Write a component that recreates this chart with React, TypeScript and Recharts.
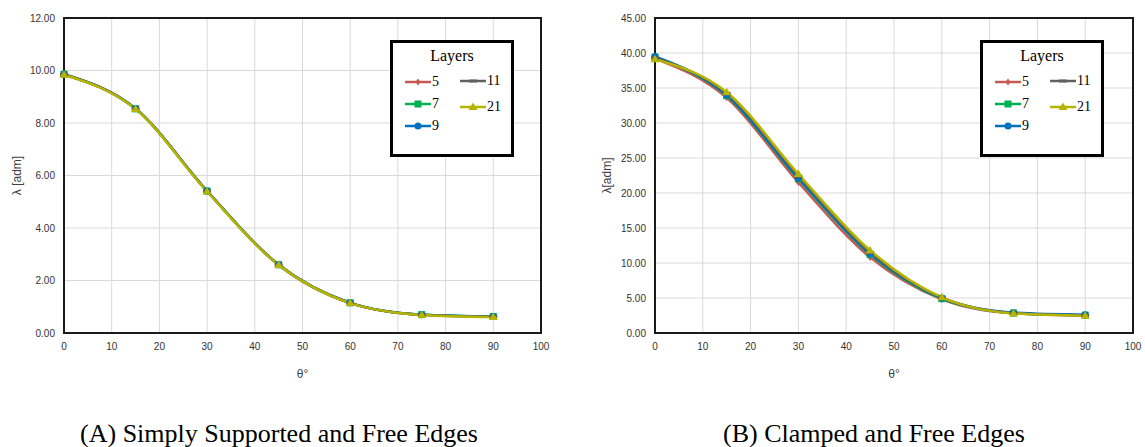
import React from "react";
import { LineChart, Line, XAxis, YAxis, CartesianGrid, Legend, ReferenceArea } from "recharts";

// theta in degrees
const thetas = [0, 15, 30, 45, 60, 75, 90];
const layers = ["5", "7", "9", "11", "21"];

// (A) simply supported and free edges
const ssL5 = [9.85, 8.54, 5.4, 2.6, 1.15, 0.7, 0.62];
const ssL7 = [9.86, 8.54, 5.41, 2.6, 1.15, 0.7, 0.63];
const ssL9 = [9.86, 8.55, 5.41, 2.6, 1.15, 0.7, 0.63];
const ssL11 = [9.85, 8.54, 5.4, 2.59, 1.14, 0.69, 0.62];
const ssL21 = [9.84, 8.53, 5.39, 2.59, 1.14, 0.69, 0.61];

// (B) clamped and free edges
const clL5 = [39.2, 33.6, 21.5, 10.8, 4.8, 2.8, 2.5];
const clL7 = [39.4, 33.9, 22.0, 11.2, 4.9, 2.85, 2.55];
const clL9 = [39.5, 34.0, 22.1, 11.3, 5.0, 2.9, 2.6];
const clL11 = [39.3, 34.2, 22.4, 11.5, 5.05, 2.85, 2.5];
const clL21 = [39.1, 34.4, 22.7, 11.8, 5.1, 2.8, 2.45];

const xTicks = [0, 10, 20, 30, 40, 50, 60, 70, 80, 90, 100];
const ssTicks = [0, 2, 4, 6, 8, 10, 12];
const clTicks = [0, 5, 10, 15, 20, 25, 30, 35, 40, 45];

const colors = ["#C55A55", "#00B050", "#0070C0", "#606060", "#B5B500"];
const markers = ["diamond", "square", "circle", "dash", "triangle"];

const buildRows = (series: number[][]) =>
  thetas.map((t, i) => {
    const row: Record<string, number> = { theta: t };
    layers.forEach((l, j) => (row["L" + l] = series[j][i]));
    return row;
  });

const ssData = buildRows([ssL5, ssL7, ssL9, ssL11, ssL21]);
const clData = buildRows([clL5, clL7, clL9, clL11, clL21]);

function Marker({ kind, color, cx, cy }: { kind: string; color: string; cx: number; cy: number }) {
  if (cx == null || cy == null) return null;
  switch (kind) {
    case "diamond":
      return <path d={`M${cx},${cy - 3.5}L${cx + 2.5},${cy}L${cx},${cy + 3.5}L${cx - 2.5},${cy}Z`} fill={color} />;
    case "square":
      return <rect x={cx - 3.5} y={cy - 3.5} width={7} height={7} fill={color} />;
    case "circle":
      return <circle cx={cx} cy={cy} r={3.5} fill={color} />;
    case "dash":
      return <rect x={cx - 4} y={cy - 1.5} width={8} height={3} fill={color} />;
    default:
      return <path d={`M${cx},${cy - 4.5}L${cx + 4.5},${cy + 3}L${cx - 4.5},${cy + 3}Z`} fill={color} />;
  }
}

function LegendIcon({ i }: { i: number }) {
  return (
    <svg width={26} height={10} style={{ display: "block" }}>
      <line x1={0} y1={5} x2={26} y2={5} stroke={colors[i]} strokeWidth={2.5} />
      <Marker kind={markers[i]} color={colors[i]} cx={13} cy={5} />
    </svg>
  );
}

function LayersBox() {
  // column 1: 5, 7, 9 ; column 2: 11, 21
  const pos = [
    { x: 12, y: 39 },
    { x: 12, y: 61 },
    { x: 12, y: 83 },
    { x: 67, y: 38 },
    { x: 67, y: 64 },
  ];
  return (
    <div
      style={{
        position: "relative",
        width: 124,
        height: 117,
        boxSizing: "border-box",
        border: "3px solid #000",
        background: "#fff",
        fontFamily: "'Liberation Serif', serif",
        color: "#000",
      }}
    >
      <div style={{ position: "absolute", left: 0, width: 118, top: 4, textAlign: "center", fontSize: 16 }}>Layers</div>
      {layers.map((l, i) => (
        <div
          key={l}
          style={{ position: "absolute", left: pos[i].x, top: pos[i].y - 8, height: 16, display: "flex", alignItems: "center", fontSize: 14 }}
        >
          <LegendIcon i={i} />
          <span style={{ marginLeft: 1 }}>{l}</span>
        </div>
      ))}
    </div>
  );
}

const tickStyle = { fontSize: 10, fill: "#333", fontFamily: "'Liberation Sans', Arial, sans-serif" };

function Panel({
  data,
  yMax,
  yTicks,
  yLabel,
  width,
  yAxisWidth,
  right,
}: {
  data: Record<string, number>[];
  yMax: number;
  yTicks: number[];
  yLabel: string;
  width: number;
  yAxisWidth: number;
  right: number;
}) {
  return (
    <LineChart
      width={width}
      height={390}
      data={data}
      margin={{ top: 18, right, left: 0, bottom: 0 }}
      style={{ fontFamily: "'Liberation Sans', Arial, sans-serif" }}
    >
      <CartesianGrid stroke="#d9d9d9" strokeWidth={1} />
      <XAxis
        dataKey="theta"
        type="number"
        domain={[0, 100]}
        ticks={xTicks}
        height={57}
        tickSize={0}
        tickMargin={10}
        axisLine={false}
        tick={tickStyle}
        label={{ value: "θ°", position: "insideBottom", offset: 12, style: { fontSize: 12, fill: "#404040" } }}
      />
      <YAxis
        type="number"
        domain={[0, yMax]}
        ticks={yTicks}
        width={yAxisWidth}
        tickSize={0}
        tickMargin={9}
        axisLine={false}
        tick={tickStyle}
        tickFormatter={(v: number) => v.toFixed(2)}
        label={{
          value: yLabel,
          angle: -90,
          position: "insideLeft",
          offset: 17,
          style: { fontSize: 12, fill: "#404040", textAnchor: "middle" },
        }}
      />
      <ReferenceArea x1={0} x2={100} y1={0} y2={yMax} fill="none" stroke="#1a1a1a" strokeWidth={2} />
      {layers.map((l, i) => (
        <Line
          key={l}
          dataKey={"L" + l}
          name={l}
          type="monotone"
          stroke={colors[i]}
          strokeWidth={2.5}
          isAnimationActive={false}
          dot={(p: any) => <Marker key={`${l}-${p.index}`} kind={markers[i]} color={colors[i]} cx={p.cx} cy={p.cy} />}
          activeDot={false}
        />
      ))}
      <Legend
        layout="vertical"
        align="center"
        verticalAlign="middle"
        wrapperStyle={{ left: 390, top: 40, width: 124, height: 117 }}
        content={() => <LayersBox />}
      />
    </LineChart>
  );
}

const captionStyle: React.CSSProperties = {
  position: "absolute",
  top: 419,
  fontFamily: "'Liberation Serif', 'Times New Roman', serif",
  fontSize: 26,
  color: "#000",
  textAlign: "center",
  lineHeight: "30px",
};

export default function App() {
  return (
    <div style={{ position: "absolute", left: 0, top: 0, width: 1145, height: 447, overflow: "hidden", background: "#fff" }}>
      <div style={{ position: "absolute", left: 0, top: 0 }}>
        <Panel data={ssData} yMax={12} yTicks={ssTicks} yLabel="λ [adm]" width={560} yAxisWidth={64} right={19} />
      </div>
      <div style={{ position: "absolute", left: 590, top: 0 }}>
        <Panel data={clData} yMax={45} yTicks={clTicks} yLabel="λ[adm]" width={555} yAxisWidth={65} right={12} />
      </div>
      <div style={{ ...captionStyle, left: 0, width: 558 }}>(A) Simply Supported and Free Edges</div>
      <div style={{ ...captionStyle, left: 600, width: 548 }}>(B) Clamped and Free Edges</div>
    </div>
  );
}
